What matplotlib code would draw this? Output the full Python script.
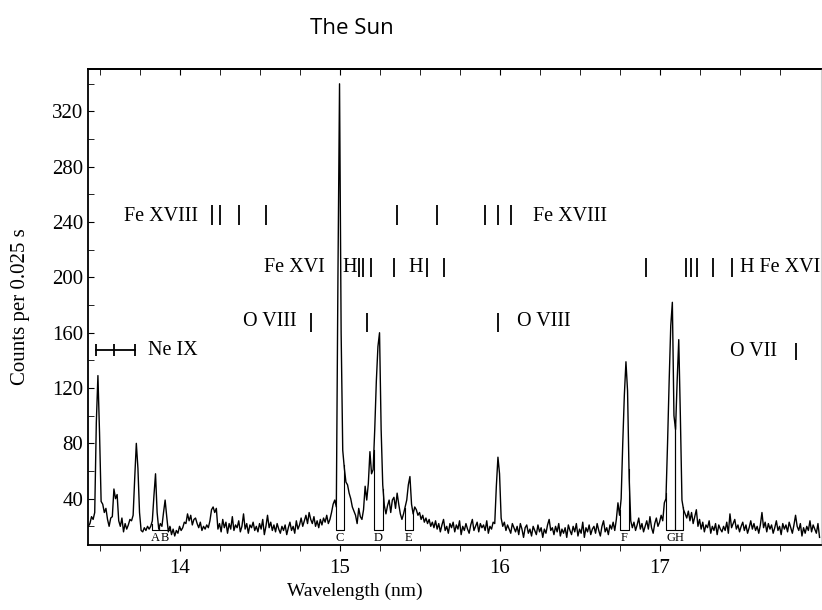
import matplotlib
matplotlib.use("Agg")
import matplotlib.pyplot as plt
import numpy as np

plt.rcParams['font.family'] = ['Liberation Serif', 'DejaVu Serif']

# spectrum, counts, one value per 0.01 nm starting at 13.43 nm
wl_start = 13.43
wl_step = 0.01
counts = [
    20, 22, 27, 25, 30, 95, 129,                   # 13.43-13.49
    88, 38, 36, 30, 33, 25, 20, 26, 27, 47,        # 13.5
    40, 43, 24, 20, 26, 16, 22, 18, 21, 25,        # 13.6
    24, 28, 55, 80, 62, 30, 17, 16, 19, 17,        # 13.7
    20, 18, 20, 24, 42, 58, 30, 18, 22, 20,        # 13.8
    30, 39, 27, 16, 20, 14, 18, 13, 17, 15,        # 13.9
    20, 17, 19, 23, 22, 29, 24, 28, 21, 25,        # 14.0
    26, 22, 19, 23, 17, 20, 18, 21, 19, 24,        # 14.1
    32, 34, 30, 33, 18, 22, 16, 25, 19, 23,        # 14.2
    15, 22, 18, 27, 17, 21, 19, 24, 16, 20,        # 14.3
    29, 18, 22, 15, 21, 19, 23, 17, 20, 16,        # 14.4
    22, 18, 25, 14, 20, 28, 19, 23, 17, 21,        # 14.5
    16, 22, 18, 15, 20, 17, 21, 14, 19, 23,        # 14.6
    17, 20, 15, 24, 18, 21, 26, 20, 24, 28,        # 14.7
    22, 30, 25, 22, 27, 20, 24, 19, 25, 21,        # 14.8
    26, 23, 28, 22, 25, 30, 36, 39, 34, 200,       # 14.9
    340, 160, 75, 62, 52, 50, 44, 40, 34, 31,      # 15.0
    28, 22, 33, 27, 25, 32, 49, 39, 51, 74,        # 15.1
    58, 61, 90, 125, 150, 160, 90, 50, 35, 29,     # 15.2
    35, 39, 30, 39, 41, 33, 44, 36, 29, 25,        # 15.3
    29, 34, 39, 50, 56, 36, 29, 34, 32, 28,        # 15.4
    30, 25, 28, 23, 26, 22, 25, 20, 23, 19,        # 15.5
    24, 18, 22, 16, 21, 25, 17, 20, 15, 22,        # 15.6
    19, 23, 16, 21, 18, 24, 14, 20, 17, 22,        # 15.7
    18, 15, 21, 25, 17, 20, 23, 16, 22, 19,        # 15.8
    21, 17, 24, 15, 20, 18, 23, 22, 49, 70,        # 15.9
    58, 26, 20, 23, 17, 21, 18, 15, 22, 19,        # 16.0
    16, 20, 14, 22, 18, 12, 19, 21, 15, 18,        # 16.1
    13, 20, 17, 14, 21, 16, 19, 12, 18, 15,        # 16.2
    21, 25, 17, 19, 14, 20, 16, 22, 13, 18,        # 16.3
    15, 19, 12, 21, 17, 14, 20, 16, 22, 13,        # 16.4
    18, 15, 23, 12, 19, 16, 21, 14, 18, 20,        # 16.5
    15, 22, 17, 13, 20, 24, 16, 19, 14, 21,        # 16.6
    18, 23, 17, 25, 37, 28, 40, 80, 115, 139,      # 16.7
    118, 55, 24, 19, 23, 17, 21, 26, 18, 22,       # 16.8
    16, 20, 24, 18, 27, 19, 15, 22, 26, 20,        # 16.9
    23, 28, 24, 37, 40, 80, 125, 165, 182, 100,    # 17.0
    90, 125, 155, 100, 39, 32, 29, 26, 31, 24,     # 17.1
    30, 22, 27, 32, 20, 25, 18, 23, 16, 21,        # 17.2
    19, 24, 15, 20, 17, 22, 14, 21, 18, 16,        # 17.3
    20, 17, 23, 15, 29, 19, 22, 25, 18, 21,        # 17.4
    16, 20, 23, 17, 21, 15, 19, 24, 18, 22,        # 17.5
    17, 20, 15, 21, 30, 19, 23, 16, 22, 18,        # 17.6
    21, 15, 19, 24, 17, 20, 14, 22, 18, 21,        # 17.7
    16, 23, 19, 15, 21, 28, 20, 17, 22, 13,        # 17.8
    19, 15, 20, 17, 24, 16, 21, 18, 15, 22, 12,    # 17.9-18.0
]

# line identifications (nm)
fe18_lines = [14.20, 14.25, 14.37, 14.54, 15.36, 15.61, 15.91, 15.99, 16.07]
fe16_lines = [15.12, 15.145, 15.195, 15.34, 15.545, 15.653,
              16.916, 17.166, 17.197, 17.233, 17.337, 17.452]
h_marks = [15.062, 15.478]
o8_lines = [14.82, 15.17, 15.99]
o7_lines = [17.85]
ne9_lines = [13.481, 13.591, 13.72]

# integration windows under the lettered lines
box_labels = ['A', 'B', 'C', 'D', 'E', 'F', 'G', 'H']
box_left = [13.825, 13.869, 14.978, 15.215, 15.409, 16.753, 17.041, 17.097]
box_right = [13.869, 13.941, 15.028, 15.272, 15.459, 16.809, 17.097, 17.147]
box_floor = 17

wl = np.round(wl_start + wl_step * np.arange(len(counts)), 2)
counts = np.array(counts, dtype=float)

fig = plt.figure(figsize=(8.22, 6.10), dpi=100)
ax = fig.add_axes([88/822, 1-545/610, (821-88)/822, (545-69)/610])

ax.plot(wl, counts, color='black', linewidth=1.0)

for lab, x0, x1 in zip(box_labels, box_left, box_right):
    y0 = np.interp(x0, wl, counts)
    y1 = np.interp(x1, wl, counts)
    ax.plot([x0, x0, x1, x1], [y0, box_floor, box_floor, y1], color='black', linewidth=0.8)
    ax.text((x0+x1)/2, 11.3, lab, ha='center', va='center', fontsize=9)

tfs = 14.5
mk = dict(color='black', linewidth=1.3)
# Fe XVIII row
ax.vlines(fe18_lines, 238, 252, **mk)
ax.text(14.116, 244, 'Fe XVIII', ha='right', va='center', fontsize=tfs)
ax.text(16.209, 244, 'Fe XVIII', ha='left', va='center', fontsize=tfs)
# Fe XVI row
ax.vlines(fe16_lines, 200, 214, **mk)
ax.text(14.909, 207, 'Fe XVI', ha='right', va='center', fontsize=tfs)
for h in h_marks:
    ax.text(h, 207, 'H', ha='center', va='center', fontsize=tfs)
ax.text(17.503, 207, 'H Fe XVI', ha='left', va='center', fontsize=tfs)
# O VIII row
ax.vlines(o8_lines, 160.5, 174, **mk)
ax.text(14.734, 168, 'O VIII', ha='right', va='center', fontsize=tfs)
ax.text(16.109, 168, 'O VIII', ha='left', va='center', fontsize=tfs)
# O VII
ax.vlines(o7_lines, 140, 152.5, **mk)
ax.text(17.734, 146.5, 'O VII', ha='right', va='center', fontsize=tfs)
# Ne IX bracket
ax.plot([ne9_lines[0], ne9_lines[-1]], [147.5, 147.5], **mk)
ax.vlines(ne9_lines, 143.5, 151.5, **mk)
ax.text(13.803, 147.5, 'Ne IX', ha='left', va='center', fontsize=tfs)

ax.set_xlim(13.428, 18.009)
ax.set_ylim(6.5, 350.7)

ax.set_xticks([14, 15, 16, 17])
ax.set_xticks(np.arange(13.5, 18.0, 0.25), minor=True)
ax.set_yticks(np.arange(40, 321, 40))
ax.set_yticks(np.arange(20, 341, 20), minor=True)
ax.tick_params(axis='x', which='both', direction='out', length=4, labelsize=15, pad=6)
ax.tick_params(axis='y', which='both', direction='in', length=4, labelsize=15)

# ticks along the top edge point inward
top = ax.secondary_xaxis('top')
top.set_xticks([14, 15, 16, 17])
top.set_xticks(np.arange(13.5, 18.0, 0.25), minor=True)
top.tick_params(which='both', direction='in', length=4, labeltop=False)
top.spines['top'].set_linewidth(1.3)

for s in ['left', 'bottom', 'top']:
    ax.spines[s].set_linewidth(1.3)
ax.spines['right'].set_color('#d0d0d0')
ax.spines['right'].set_linewidth(0.8)

fig.text(21/822, 1-307/610, 'Counts per 0.025 s', rotation=90, ha='center', va='center', fontsize=15)
fig.text(355/822, 1-591/610, 'Wavelength (nm)', ha='center', va='center', fontsize=14)
fig.text(352/822, 1-28/610, 'The Sun', ha='center', va='center', fontsize=16, family=['Open Sans', 'DejaVu Sans'])

plt.savefig('out.png', dpi=100)
